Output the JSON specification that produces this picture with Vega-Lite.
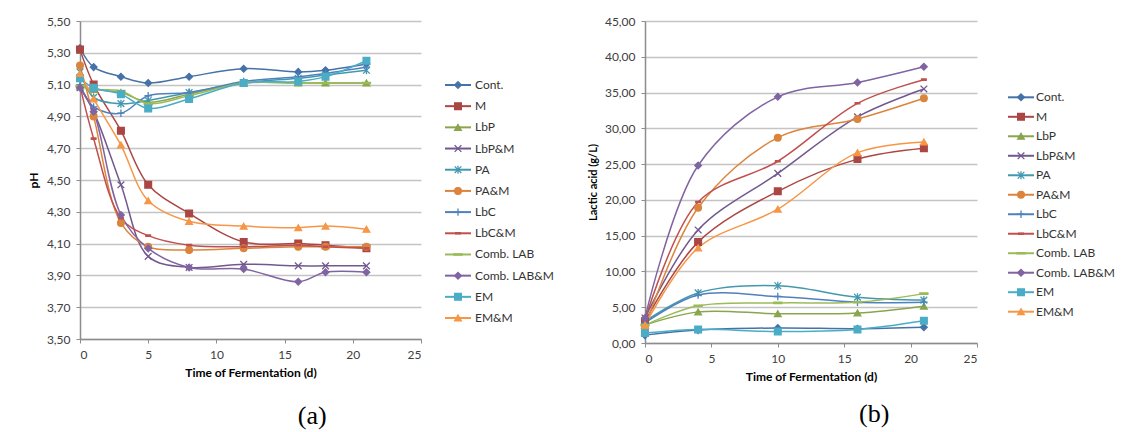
{
  "$schema": "https://vega.github.io/schema/vega-lite/v6.json",
  "padding": {"left": 27, "top": 15, "right": 5, "bottom": 5},
  "background": "white",
  "config": {
    "font": "Lato",
    "view": {"stroke": null},
    "axis": {
      "labelFont": "Lato", "labelFontSize": 12, "labelColor": "#404040",
      "titleFont": "Lato", "titleFontSize": 12, "titleFontWeight": "bold", "titleColor": "#000000",
      "domainColor": "#8c8c8c", "domainWidth": 1.5, "tickColor": "#8c8c8c", "tickSize": 4,
      "gridColor": "#c4c4c4", "gridWidth": 1.5, "labelPadding": 6
    },
    "title": {"font": "Liberation Serif", "fontSize": 26, "fontWeight": "normal", "color": "#000000", "anchor": "middle"}
  },
  "datasets": {
    "ph": [
      {"s":"Cont.","d":0,"v":5.33},{"s":"Cont.","d":1,"v":5.21},{"s":"Cont.","d":3,"v":5.15},{"s":"Cont.","d":5,"v":5.11},{"s":"Cont.","d":8,"v":5.15},{"s":"Cont.","d":12,"v":5.2},{"s":"Cont.","d":16,"v":5.18},{"s":"Cont.","d":18,"v":5.19},{"s":"Cont.","d":21,"v":5.23},
      {"s":"M","d":0,"v":5.32},{"s":"M","d":1,"v":5.1},{"s":"M","d":3,"v":4.81},{"s":"M","d":5,"v":4.47},{"s":"M","d":8,"v":4.29},{"s":"M","d":12,"v":4.11},{"s":"M","d":16,"v":4.1},{"s":"M","d":18,"v":4.09},{"s":"M","d":21,"v":4.07},
      {"s":"LbP","d":0,"v":5.09},{"s":"LbP","d":1,"v":5.07},{"s":"LbP","d":3,"v":5.05},{"s":"LbP","d":5,"v":4.99},{"s":"LbP","d":8,"v":5.04},{"s":"LbP","d":12,"v":5.11},{"s":"LbP","d":16,"v":5.11},{"s":"LbP","d":18,"v":5.11},{"s":"LbP","d":21,"v":5.11},
      {"s":"LbP&M","d":0,"v":5.08},{"s":"LbP&M","d":1,"v":4.93},{"s":"LbP&M","d":3,"v":4.47},{"s":"LbP&M","d":5,"v":4.02},{"s":"LbP&M","d":8,"v":3.95},{"s":"LbP&M","d":12,"v":3.97},{"s":"LbP&M","d":16,"v":3.96},{"s":"LbP&M","d":18,"v":3.96},{"s":"LbP&M","d":21,"v":3.96},
      {"s":"PA","d":0,"v":5.18},{"s":"PA","d":1,"v":5.02},{"s":"PA","d":3,"v":4.98},{"s":"PA","d":5,"v":5.0},{"s":"PA","d":8,"v":5.05},{"s":"PA","d":12,"v":5.11},{"s":"PA","d":16,"v":5.14},{"s":"PA","d":18,"v":5.16},{"s":"PA","d":21,"v":5.19},
      {"s":"PA&M","d":0,"v":5.22},{"s":"PA&M","d":1,"v":4.9},{"s":"PA&M","d":3,"v":4.23},{"s":"PA&M","d":5,"v":4.08},{"s":"PA&M","d":8,"v":4.06},{"s":"PA&M","d":12,"v":4.07},{"s":"PA&M","d":16,"v":4.08},{"s":"PA&M","d":18,"v":4.08},{"s":"PA&M","d":21,"v":4.08},
      {"s":"LbC","d":0,"v":5.1},{"s":"LbC","d":1,"v":4.96},{"s":"LbC","d":3,"v":4.92},{"s":"LbC","d":5,"v":5.03},{"s":"LbC","d":8,"v":5.05},{"s":"LbC","d":12,"v":5.12},{"s":"LbC","d":16,"v":5.15},{"s":"LbC","d":18,"v":5.17},{"s":"LbC","d":21,"v":5.21},
      {"s":"LbC&M","d":0,"v":5.09},{"s":"LbC&M","d":1,"v":4.76},{"s":"LbC&M","d":3,"v":4.26},{"s":"LbC&M","d":5,"v":4.15},{"s":"LbC&M","d":8,"v":4.09},{"s":"LbC&M","d":12,"v":4.08},{"s":"LbC&M","d":16,"v":4.09},{"s":"LbC&M","d":18,"v":4.08},{"s":"LbC&M","d":21,"v":4.07},
      {"s":"Comb. LAB","d":0,"v":5.09},{"s":"Comb. LAB","d":1,"v":5.07},{"s":"Comb. LAB","d":3,"v":5.06},{"s":"Comb. LAB","d":5,"v":4.98},{"s":"Comb. LAB","d":8,"v":5.03},{"s":"Comb. LAB","d":12,"v":5.11},{"s":"Comb. LAB","d":16,"v":5.11},{"s":"Comb. LAB","d":18,"v":5.11},{"s":"Comb. LAB","d":21,"v":5.11},
      {"s":"Comb. LAB&M","d":0,"v":5.08},{"s":"Comb. LAB&M","d":1,"v":4.93},{"s":"Comb. LAB&M","d":3,"v":4.28},{"s":"Comb. LAB&M","d":5,"v":4.07},{"s":"Comb. LAB&M","d":8,"v":3.95},{"s":"Comb. LAB&M","d":12,"v":3.94},{"s":"Comb. LAB&M","d":16,"v":3.86},{"s":"Comb. LAB&M","d":18,"v":3.92},{"s":"Comb. LAB&M","d":21,"v":3.92},
      {"s":"EM","d":0,"v":5.14},{"s":"EM","d":1,"v":5.08},{"s":"EM","d":3,"v":5.04},{"s":"EM","d":5,"v":4.95},{"s":"EM","d":8,"v":5.01},{"s":"EM","d":12,"v":5.11},{"s":"EM","d":16,"v":5.12},{"s":"EM","d":18,"v":5.15},{"s":"EM","d":21,"v":5.25},
      {"s":"EM&M","d":0,"v":5.17},{"s":"EM&M","d":1,"v":5.01},{"s":"EM&M","d":3,"v":4.72},{"s":"EM&M","d":5,"v":4.37},{"s":"EM&M","d":8,"v":4.24},{"s":"EM&M","d":12,"v":4.21},{"s":"EM&M","d":16,"v":4.2},{"s":"EM&M","d":18,"v":4.21},{"s":"EM&M","d":21,"v":4.19}
    ],
    "la": [
      {"s":"Cont.","d":0,"v":1.1},{"s":"Cont.","d":4,"v":1.8},{"s":"Cont.","d":10,"v":2.1},{"s":"Cont.","d":16,"v":2.0},{"s":"Cont.","d":21,"v":2.2},
      {"s":"M","d":0,"v":3.0},{"s":"M","d":4,"v":14.1},{"s":"M","d":10,"v":21.2},{"s":"M","d":16,"v":25.7},{"s":"M","d":21,"v":27.2},
      {"s":"LbP","d":0,"v":2.5},{"s":"LbP","d":4,"v":4.35},{"s":"LbP","d":10,"v":4.1},{"s":"LbP","d":16,"v":4.2},{"s":"LbP","d":21,"v":5.15},
      {"s":"LbP&M","d":0,"v":3.5},{"s":"LbP&M","d":4,"v":15.8},{"s":"LbP&M","d":10,"v":23.7},{"s":"LbP&M","d":16,"v":31.6},{"s":"LbP&M","d":21,"v":35.5},
      {"s":"PA","d":0,"v":3.0},{"s":"PA","d":4,"v":7.0},{"s":"PA","d":10,"v":8.0},{"s":"PA","d":16,"v":6.4},{"s":"PA","d":21,"v":6.0},
      {"s":"PA&M","d":0,"v":2.2},{"s":"PA&M","d":4,"v":18.9},{"s":"PA&M","d":10,"v":28.7},{"s":"PA&M","d":16,"v":31.3},{"s":"PA&M","d":21,"v":34.2},
      {"s":"LbC","d":0,"v":2.8},{"s":"LbC","d":4,"v":6.7},{"s":"LbC","d":10,"v":6.5},{"s":"LbC","d":16,"v":5.7},{"s":"LbC","d":21,"v":5.7},
      {"s":"LbC&M","d":0,"v":3.2},{"s":"LbC&M","d":4,"v":19.7},{"s":"LbC&M","d":10,"v":25.4},{"s":"LbC&M","d":16,"v":33.5},{"s":"LbC&M","d":21,"v":36.8},
      {"s":"Comb. LAB","d":0,"v":2.5},{"s":"Comb. LAB","d":4,"v":5.2},{"s":"Comb. LAB","d":10,"v":5.6},{"s":"Comb. LAB","d":16,"v":5.7},{"s":"Comb. LAB","d":21,"v":6.9},
      {"s":"Comb. LAB&M","d":0,"v":3.5},{"s":"Comb. LAB&M","d":4,"v":24.8},{"s":"Comb. LAB&M","d":10,"v":34.4},{"s":"Comb. LAB&M","d":16,"v":36.4},{"s":"Comb. LAB&M","d":21,"v":38.6},
      {"s":"EM","d":0,"v":1.4},{"s":"EM","d":4,"v":1.9},{"s":"EM","d":10,"v":1.6},{"s":"EM","d":16,"v":1.9},{"s":"EM","d":21,"v":3.1},
      {"s":"EM&M","d":0,"v":2.5},{"s":"EM&M","d":4,"v":13.3},{"s":"EM&M","d":10,"v":18.7},{"s":"EM&M","d":16,"v":26.6},{"s":"EM&M","d":21,"v":28.1}
    ],
    "leg": [
      {"s":"Cont.","o":1},{"s":"M","o":2},{"s":"LbP","o":3},{"s":"LbP&M","o":4},{"s":"PA","o":5},{"s":"PA&M","o":6},
      {"s":"LbC","o":7},{"s":"LbC&M","o":8},{"s":"Comb. LAB","o":9},{"s":"Comb. LAB&M","o":10},{"s":"EM","o":11},{"s":"EM&M","o":12}
    ]
  },
  "spacing": 32,
  "hconcat": [
    {
      "title": {"text": "(a)", "orient": "bottom", "offset": 25, "dx": 21},
      "spacing": 22,
      "hconcat": [
        {
          "width": 341, "height": 318,
          "data": {"name": "ph"},
          "encoding": {
            "x": {"field": "d", "type": "quantitative", "scale": {"domain": [0, 25]}, "axis": {"values": [0,5,10,15,20,25], "title": "Time of Fermentation (d)", "grid": false, "titlePadding": 7}},
            "y": {"field": "v", "type": "quantitative", "scale": {"domain": [3.5, 5.5], "zero": false}, "axis": {"values": [3.5,3.7,3.9,4.1,4.3,4.5,4.7,4.9,5.1,5.3,5.5], "labelExpr": "replace(format(datum.value, '.2f'), '.', ',')", "title": "pH", "titlePadding": 6}},
            "color": {"field": "s", "type": "nominal", "legend": null, "scale": {"domain": ["Cont.","M","LbP","LbP&M","PA","PA&M","LbC","LbC&M","Comb. LAB","Comb. LAB&M","EM","EM&M"], "range": ["#4572A7","#AA4643","#89A54E","#71588F","#4198AF","#DB843D","#4F81BD","#C0504D","#9BBB59","#8064A2","#4BACC6","#F79646"]}}
          },
          "layer": [
            {"mark": {"type": "line", "interpolate": "catmull-rom", "strokeWidth": 1.5}},
            {"mark": {"type": "point", "filled": true, "opacity": 1, "size": 45, "strokeWidth": 1.3},
             "encoding": {
               "shape": {"field": "s", "type": "nominal", "legend": null, "scale": {"domain": ["Cont.","M","LbP","LbP&M","PA","PA&M","LbC","LbC&M","Comb. LAB","Comb. LAB&M","EM","EM&M"], "range": ["diamond","square","triangle-up","M-1,-1L1,1M-1,1L1,-1","M-1,-1L1,1M-1,1L1,-1M0,-1.2L0,1.2","circle","M-1.1,0L1.1,0M0,-1.1L0,1.1","M-0.7,-0.2L0.7,-0.2L0.7,0.2L-0.7,0.2Z","M-1.2,-0.2L1.2,-0.2L1.2,0.2L-1.2,0.2Z","diamond","square","triangle-up"]}},
               "stroke": {"field": "s", "type": "nominal", "legend": null, "scale": {"domain": ["Cont.","M","LbP","LbP&M","PA","PA&M","LbC","LbC&M","Comb. LAB","Comb. LAB&M","EM","EM&M"], "range": ["#4572A7","#AA4643","#89A54E","#71588F","#4198AF","#DB843D","#4F81BD","#C0504D","#9BBB59","#8064A2","#4BACC6","#F79646"]}}
             }}
          ]
        },
        {
          "width": 110, "height": 318,
          "data": {"name": "leg"},
          "encoding": {
            "y": {"field": "o", "type": "quantitative", "scale": {"domain": [-2.02, 12.99], "reverse": true}, "axis": null},
            "color": {"field": "s", "type": "nominal", "legend": null, "scale": {"domain": ["Cont.","M","LbP","LbP&M","PA","PA&M","LbC","LbC&M","Comb. LAB","Comb. LAB&M","EM","EM&M"], "range": ["#4572A7","#AA4643","#89A54E","#71588F","#4198AF","#DB843D","#4F81BD","#C0504D","#9BBB59","#8064A2","#4BACC6","#F79646"]}}
          },
          "layer": [
            {"mark": {"type": "rule", "strokeWidth": 2}, "encoding": {"x": {"datum": 0, "type": "quantitative", "scale": {"domain": [0, 110]}, "axis": null}, "x2": {"datum": 26}}},
            {"mark": {"type": "point", "filled": true, "opacity": 1, "size": 45, "strokeWidth": 1.3},
             "encoding": {
               "x": {"datum": 13, "type": "quantitative", "scale": {"domain": [0, 110]}, "axis": null},
               "shape": {"field": "s", "type": "nominal", "legend": null, "scale": {"domain": ["Cont.","M","LbP","LbP&M","PA","PA&M","LbC","LbC&M","Comb. LAB","Comb. LAB&M","EM","EM&M"], "range": ["diamond","square","triangle-up","M-1,-1L1,1M-1,1L1,-1","M-1,-1L1,1M-1,1L1,-1M0,-1.2L0,1.2","circle","M-1.1,0L1.1,0M0,-1.1L0,1.1","M-0.7,-0.2L0.7,-0.2L0.7,0.2L-0.7,0.2Z","M-1.2,-0.2L1.2,-0.2L1.2,0.2L-1.2,0.2Z","diamond","square","triangle-up"]}},
               "stroke": {"field": "s", "type": "nominal", "legend": null, "scale": {"domain": ["Cont.","M","LbP","LbP&M","PA","PA&M","LbC","LbC&M","Comb. LAB","Comb. LAB&M","EM","EM&M"], "range": ["#4572A7","#AA4643","#89A54E","#71588F","#4198AF","#DB843D","#4F81BD","#C0504D","#9BBB59","#8064A2","#4BACC6","#F79646"]}}
             }},
            {"mark": {"type": "text", "align": "left", "baseline": "middle", "fontSize": 12, "font": "Lato"},
             "encoding": {"x": {"datum": 30, "type": "quantitative", "scale": {"domain": [0, 110]}, "axis": null}, "text": {"field": "s"}, "color": {"value": "#333333"}}}
          ]
        }
      ]
    },
    {
      "title": {"text": "(b)", "orient": "bottom", "offset": 19, "dx": 23},
      "spacing": 29,
      "hconcat": [
        {
          "width": 332, "height": 322,
          "data": {"name": "la"},
          "encoding": {
            "x": {"field": "d", "type": "quantitative", "scale": {"domain": [0, 25]}, "axis": {"values": [0,5,10,15,20,25], "title": "Time of Fermentation (d)", "grid": false, "titlePadding": 7}},
            "y": {"field": "v", "type": "quantitative", "scale": {"domain": [0, 45]}, "axis": {"values": [0,5,10,15,20,25,30,35,40,45], "labelExpr": "replace(format(datum.value, '.2f'), '.', ',')", "title": "Lactic acid (g/L)", "titlePadding": 6, "titleFontSize": 11}},
            "color": {"field": "s", "type": "nominal", "legend": null, "scale": {"domain": ["Cont.","M","LbP","LbP&M","PA","PA&M","LbC","LbC&M","Comb. LAB","Comb. LAB&M","EM","EM&M"], "range": ["#4572A7","#AA4643","#89A54E","#71588F","#4198AF","#DB843D","#4F81BD","#C0504D","#9BBB59","#8064A2","#4BACC6","#F79646"]}}
          },
          "layer": [
            {"mark": {"type": "line", "interpolate": "catmull-rom", "strokeWidth": 1.5}},
            {"mark": {"type": "point", "filled": true, "opacity": 1, "size": 45, "strokeWidth": 1.3},
             "encoding": {
               "shape": {"field": "s", "type": "nominal", "legend": null, "scale": {"domain": ["Cont.","M","LbP","LbP&M","PA","PA&M","LbC","LbC&M","Comb. LAB","Comb. LAB&M","EM","EM&M"], "range": ["diamond","square","triangle-up","M-1,-1L1,1M-1,1L1,-1","M-1,-1L1,1M-1,1L1,-1M0,-1.2L0,1.2","circle","M-1.1,0L1.1,0M0,-1.1L0,1.1","M-0.7,-0.2L0.7,-0.2L0.7,0.2L-0.7,0.2Z","M-1.2,-0.2L1.2,-0.2L1.2,0.2L-1.2,0.2Z","diamond","square","triangle-up"]}},
               "stroke": {"field": "s", "type": "nominal", "legend": null, "scale": {"domain": ["Cont.","M","LbP","LbP&M","PA","PA&M","LbC","LbC&M","Comb. LAB","Comb. LAB&M","EM","EM&M"], "range": ["#4572A7","#AA4643","#89A54E","#71588F","#4198AF","#DB843D","#4F81BD","#C0504D","#9BBB59","#8064A2","#4BACC6","#F79646"]}}
             }}
          ]
        },
        {
          "width": 100, "height": 322,
          "data": {"name": "leg"},
          "encoding": {
            "y": {"field": "o", "type": "quantitative", "scale": {"domain": [-2.915, 13.606], "reverse": true}, "axis": null},
            "color": {"field": "s", "type": "nominal", "legend": null, "scale": {"domain": ["Cont.","M","LbP","LbP&M","PA","PA&M","LbC","LbC&M","Comb. LAB","Comb. LAB&M","EM","EM&M"], "range": ["#4572A7","#AA4643","#89A54E","#71588F","#4198AF","#DB843D","#4F81BD","#C0504D","#9BBB59","#8064A2","#4BACC6","#F79646"]}}
          },
          "layer": [
            {"mark": {"type": "rule", "strokeWidth": 2}, "encoding": {"x": {"datum": 0, "type": "quantitative", "scale": {"domain": [0, 100]}, "axis": null}, "x2": {"datum": 26}}},
            {"mark": {"type": "point", "filled": true, "opacity": 1, "size": 45, "strokeWidth": 1.3},
             "encoding": {
               "x": {"datum": 13, "type": "quantitative", "scale": {"domain": [0, 100]}, "axis": null},
               "shape": {"field": "s", "type": "nominal", "legend": null, "scale": {"domain": ["Cont.","M","LbP","LbP&M","PA","PA&M","LbC","LbC&M","Comb. LAB","Comb. LAB&M","EM","EM&M"], "range": ["diamond","square","triangle-up","M-1,-1L1,1M-1,1L1,-1","M-1,-1L1,1M-1,1L1,-1M0,-1.2L0,1.2","circle","M-1.1,0L1.1,0M0,-1.1L0,1.1","M-0.7,-0.2L0.7,-0.2L0.7,0.2L-0.7,0.2Z","M-1.2,-0.2L1.2,-0.2L1.2,0.2L-1.2,0.2Z","diamond","square","triangle-up"]}},
               "stroke": {"field": "s", "type": "nominal", "legend": null, "scale": {"domain": ["Cont.","M","LbP","LbP&M","PA","PA&M","LbC","LbC&M","Comb. LAB","Comb. LAB&M","EM","EM&M"], "range": ["#4572A7","#AA4643","#89A54E","#71588F","#4198AF","#DB843D","#4F81BD","#C0504D","#9BBB59","#8064A2","#4BACC6","#F79646"]}}
             }},
            {"mark": {"type": "text", "align": "left", "baseline": "middle", "fontSize": 12, "font": "Lato"},
             "encoding": {"x": {"datum": 28, "type": "quantitative", "scale": {"domain": [0, 100]}, "axis": null}, "text": {"field": "s"}, "color": {"value": "#333333"}}}
          ]
        }
      ]
    }
  ]
}
